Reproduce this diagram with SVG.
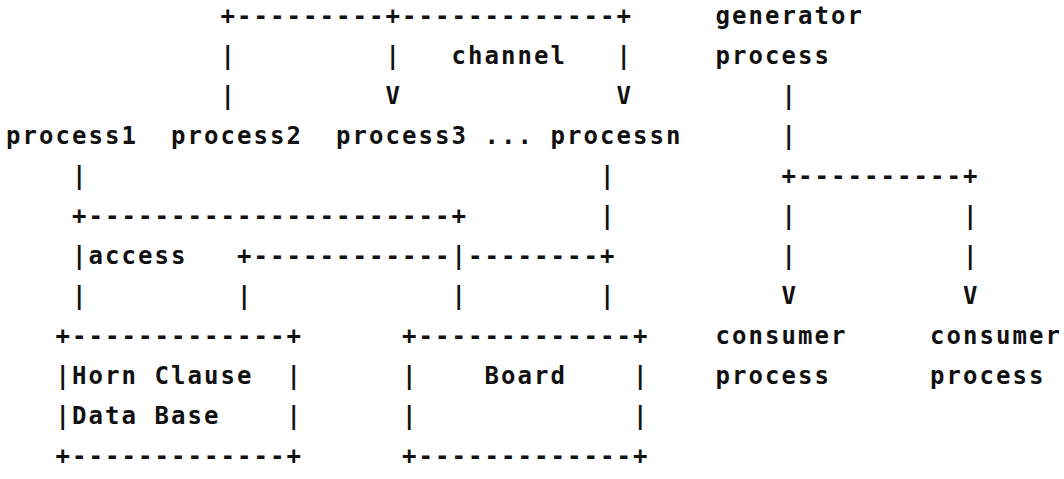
<svg xmlns="http://www.w3.org/2000/svg" width="1064" height="479" viewBox="0 0 1064 479">
<style>
text{font-family:"DejaVu Sans Mono","Liberation Mono",monospace;font-size:24px;font-weight:bold;letter-spacing:2.05px;fill:#111}
</style>
<rect width="1064" height="479" fill="#fff"/>
<g id="connectors">
<text x="220.6" y="23.5">+---------+-------------+</text>
<text x="220.6" y="63.5">|</text><text x="385.6" y="63.5">|</text><text x="616.6" y="63.5">|</text>
<text x="220.6" y="103.5">|</text><text x="385.6" y="103.5">V</text><text x="616.6" y="103.5">V</text><text x="781.6" y="103.5">|</text>
<text x="781.6" y="143.5">|</text>
<text x="72.1" y="183.5">|</text><text x="600.1" y="183.5">|</text><text x="781.6" y="183.5">+----------+</text>
<text x="72.1" y="223.5">+----------------------+</text><text x="600.1" y="223.5">|</text><text x="781.6" y="223.5">|</text><text x="963.1" y="223.5">|</text>
<text x="72.1" y="263.5">|</text><text x="237.1" y="263.5">+------------|--------+</text><text x="781.6" y="263.5">|</text><text x="963.1" y="263.5">|</text>
<text x="72.1" y="303.5">|</text><text x="237.1" y="303.5">|</text><text x="451.6" y="303.5">|</text><text x="600.1" y="303.5">|</text><text x="781.6" y="303.5">V</text><text x="963.1" y="303.5">V</text>
</g>
<g id="label-channel"><text x="451.6" y="63.5">channel</text></g>
<g id="label-access"><text x="88.6" y="263.5">access</text></g>
<g id="generator"><text x="715.6" y="23.5">generator</text><text x="715.6" y="63.5">process</text></g>
<g id="process1"><text x="6.1" y="143.5">process1</text></g>
<g id="process2"><text x="171.1" y="143.5">process2</text></g>
<g id="process3"><text x="336.1" y="143.5">process3</text></g>
<g id="ellipsis"><text x="484.6" y="143.5">...</text></g>
<g id="processn"><text x="550.6" y="143.5">processn</text></g>
<g id="hornclause">
<text x="55.6" y="343.5">+-------------+</text>
<text x="55.6" y="383.5">|</text><text x="72.1" y="383.5">Horn Clause</text><text x="286.6" y="383.5">|</text>
<text x="55.6" y="423.5">|</text><text x="72.1" y="423.5">Data Base</text><text x="286.6" y="423.5">|</text>
<text x="55.6" y="463.5">+-------------+</text>
</g>
<g id="board">
<text x="402.1" y="343.5">+-------------+</text>
<text x="402.1" y="383.5">|</text><text x="484.6" y="383.5">Board</text><text x="633.1" y="383.5">|</text>
<text x="402.1" y="423.5">|</text><text x="633.1" y="423.5">|</text>
<text x="402.1" y="463.5">+-------------+</text>
</g>
<g id="consumer1"><text x="715.6" y="343.5">consumer</text><text x="715.6" y="383.5">process</text></g>
<g id="consumer2"><text x="930.1" y="343.5">consumer</text><text x="930.1" y="383.5">process</text></g>
</svg>
